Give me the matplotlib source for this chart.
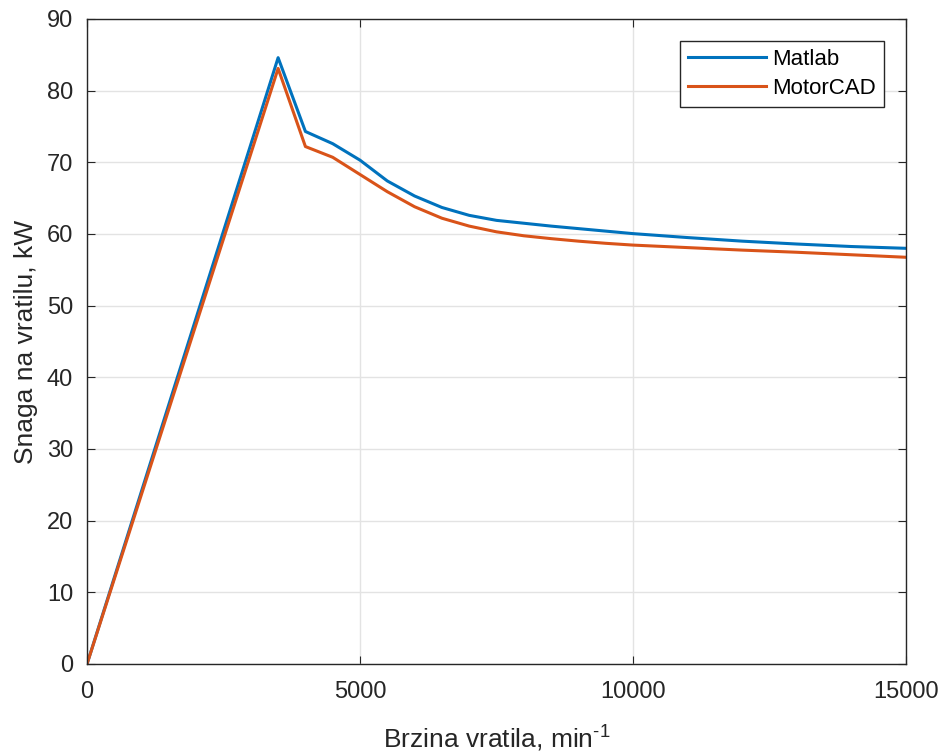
import matplotlib.pyplot as plt
import numpy as np

# Podaci (brzina u min^-1, snaga u kW)
brzina = np.array([0, 3000, 3500, 4000, 4500, 5000, 5500, 6000, 6500, 7000, 7500,
                   8000, 8500, 9000, 9500, 10000, 11000, 12000, 13000, 14000, 15000])
snaga_matlab = np.array([0, 72.5, 84.6, 74.3, 72.6, 70.3, 67.4, 65.3, 63.7, 62.6, 61.9,
                         61.5, 61.1, 60.75, 60.4, 60.05, 59.5, 59.0, 58.6, 58.25, 58.0])
snaga_motorcad = np.array([0, 71.2, 83.1, 72.2, 70.7, 68.3, 65.9, 63.8, 62.2, 61.1, 60.3,
                           59.75, 59.35, 59.0, 58.7, 58.45, 58.1, 57.75, 57.45, 57.1, 56.75])

plt.rcParams['font.family'] = ['Liberation Sans', 'DejaVu Sans']
plt.rcParams['mathtext.fontset'] = 'custom'
plt.rcParams['mathtext.rm'] = 'Liberation Sans'

fig = plt.figure(figsize=(9.44, 7.56), dpi=100)
ax = fig.add_axes([0.0922, 0.1217, 0.8675, 0.8532])

ax.plot(brzina, snaga_matlab, color='#0072BD', linewidth=2.2, label='Matlab')
ax.plot(brzina, snaga_motorcad, color='#D95319', linewidth=2.2, label='MotorCAD')

ax.set_xlim(0, 15000)
ax.set_ylim(0, 90)
ax.set_xticks([0, 5000, 10000, 15000])
ax.set_yticks(np.arange(0, 91, 10))
ax.grid(True, color='#e3e3e3', linewidth=1.0)
ax.set_axisbelow(True)
ax.tick_params(direction='in', top=True, right=True, labelsize=17, length=6,
               colors='#262626', labelcolor='#262626')
ax.tick_params(axis='x', pad=12)
ax.tick_params(axis='y', pad=10)
for s in ax.spines.values():
    s.set_color('#262626')
    s.set_linewidth(1.0)

ax.set_xlabel(r'Brzina vratila, min$^{\text{-1}}$', fontsize=19, color='#262626', labelpad=14)
ax.set_ylabel('Snaga na vratilu, kW', fontsize=19, color='#262626', labelpad=6)

leg = ax.legend(loc='upper right', fontsize=16, fancybox=False, framealpha=1,
                edgecolor='#262626', borderaxespad=1.0, handlelength=3.5,
                borderpad=0.35, labelspacing=0.35, handletextpad=0.3)
leg.get_frame().set_linewidth(1.0)

fig.savefig('out.png', dpi=100)
